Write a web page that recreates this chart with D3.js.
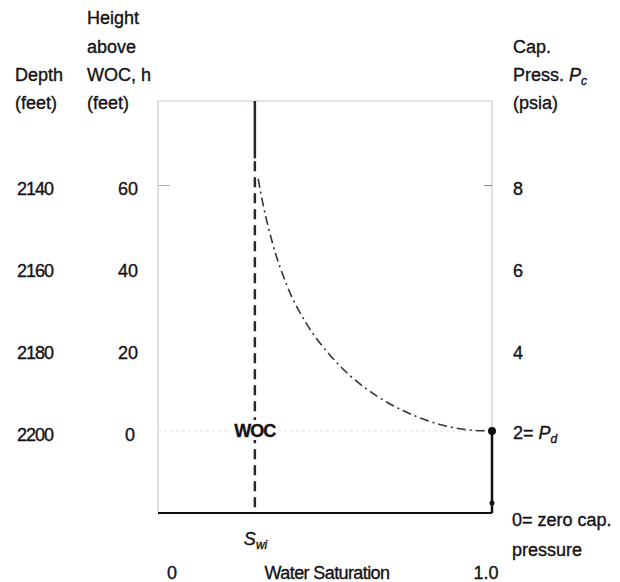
<!DOCTYPE html>
<html>
<head>
<meta charset="utf-8">
<script src="https://cdn.jsdelivr.net/npm/d3@7/dist/d3.min.js"></script>
<style>
  body { margin: 0; background: #fff; }
  svg text { font-family: "Liberation Sans", Arial, sans-serif; font-size: 18px; fill: #151215;
             stroke: #151215; stroke-width: 0.35px; }
</style>
</head>
<body>
<svg class="chart"></svg>
<script>
// values
var heightTicks = [60, 40, 20, 0];
var depthLabels = ['2140', '2160', '2180', '2200'];
var pcTicks = [8, 6, 4];
var pd = 2;
var swi = 0.29;
var curveSw = [0.30, 0.314, 0.344, 0.386, 0.446, 0.515, 0.575, 0.656, 0.754, 0.853, 0.925, 1.0];
var curvePc = [8.15, 7.55, 6.55, 5.55, 4.6, 3.85, 3.35, 2.85, 2.42, 2.14, 2.03, 2.0];
var solidTopH = 66.5;

function show() {
    'use strict';

    var width = 620, height = 582;
    var left = 158, right = 492, top = 101, bottom = 513;

    var svg = d3.select('.chart')
        .attr('width', width)
        .attr('height', height);

    var x = d3.scaleLinear().domain([0, 1]).range([left, right]);
    var h = d3.scaleLinear().domain([-20, 60]).range([bottom, 185]);
    var pc = d3.scaleLinear().domain([0, 8]).range([bottom, 185]);

    // frame
    svg.append('path')
        .attr('d', 'M' + left + ',' + bottom + 'V' + top + 'H' + right + 'V' + bottom)
        .attr('fill', 'none')
        .attr('stroke', '#cfc6cf')
        .attr('stroke-width', 1.2);

    // faint line at WOC level
    svg.append('line')
        .attr('x1', left).attr('x2', right)
        .attr('y1', h(0)).attr('y2', h(0))
        .attr('stroke', '#e2dde2')
        .attr('stroke-dasharray', '3,3');

    // small ticks on frame
    var tickL = d3.axisRight(h).tickValues([60]).tickSize(12).tickFormat('');
    svg.append('g').attr('transform', 'translate(' + left + ',0)').call(tickL)
        .call(function (g) { g.select('.domain').remove(); })
        .selectAll('line').attr('stroke', '#b9aeb9');
    var tickR = d3.axisLeft(pc).tickValues([8]).tickSize(8).tickFormat('');
    svg.append('g').attr('transform', 'translate(' + right + ',0)').call(tickR)
        .call(function (g) { g.select('.domain').remove(); })
        .selectAll('line').attr('stroke', '#8f858f');

    // depth labels
    var depthAxis = d3.axisLeft(h).tickValues(heightTicks).tickSize(0)
        .tickFormat(function (d, i) { return depthLabels[i]; });
    svg.append('g').attr('transform', 'translate(56,4)').call(depthAxis)
        .call(function (g) { g.select('.domain').remove(); })
        .selectAll('text').attr('font-size', null).attr('font-family', null).attr('fill', null)
        .attr('letter-spacing', '-1px');

    // height labels
    var hAxis = d3.axisLeft(h).tickValues(heightTicks).tickSize(0).tickFormat(d3.format('d'));
    svg.append('g').attr('transform', 'translate(138,4)').call(hAxis)
        .call(function (g) { g.select('.domain').remove(); })
        .selectAll('text').attr('font-size', null).attr('font-family', null).attr('fill', null)
        .attr('x', function (d) { return d === 0 ? -3 : 0; });

    // capillary pressure labels
    var pcAxis = d3.axisRight(pc).tickValues(pcTicks).tickSize(0).tickFormat(d3.format('d'));
    svg.append('g').attr('transform', 'translate(513,4)').call(pcAxis)
        .call(function (g) { g.select('.domain').remove(); })
        .selectAll('text').attr('font-size', null).attr('font-family', null).attr('fill', null).attr('x', 0);

    var pdText = svg.append('text').attr('x', 513).attr('y', pc(pd) + 8);
    pdText.append('tspan').text(pd + '= ');
    pdText.append('tspan').attr('font-style', 'italic').text('P');
    pdText.append('tspan').attr('font-style', 'italic').attr('font-size', '12px').attr('dy', 4).text('d');

    svg.append('text').attr('x', 512).attr('y', pc(0) + 13).text('0= zero cap.');
    svg.append('text').attr('x', 512).attr('y', pc(0) + 43).text('pressure');

    // headers
    var leftHead = [['Height', 87, 24], ['above', 87, 53], ['WOC, h', 87, 81], ['(feet)', 87, 109],
                    ['Depth', 15, 81], ['(feet)', 15, 109]];
    svg.selectAll('.head').data(leftHead).enter().append('text')
        .attr('x', function (d) { return d[1]; })
        .attr('y', function (d) { return d[2]; })
        .text(function (d) { return d[0]; });

    svg.append('text').attr('x', 513).attr('y', 53).text('Cap.');
    var press = svg.append('text').attr('x', 513).attr('y', 81);
    press.append('tspan').text('Press. ');
    press.append('tspan').attr('font-style', 'italic').text('P');
    press.append('tspan').attr('font-style', 'italic').attr('font-size', '12px').attr('dy', 4).text('c');
    svg.append('text').attr('x', 513).attr('y', 109).text('(psia)');

    // bottom axis
    svg.append('line')
        .attr('x1', x(0)).attr('x2', x(1))
        .attr('y1', bottom).attr('y2', bottom)
        .attr('stroke', '#111').attr('stroke-width', 2);

    svg.append('text').attr('x', x(0) + 14).attr('y', 579).attr('text-anchor', 'middle').text('0');
    svg.append('text').attr('x', x(1) - 6).attr('y', 579).attr('text-anchor', 'middle').text('1.0');
    svg.append('text').attr('x', (x(0) + x(1)) / 2 + 2).attr('y', 579).attr('text-anchor', 'middle')
        .attr('letter-spacing', '-0.6px').text('Water Saturation');

    var swiText = svg.append('text').attr('x', x(swi) - 11).attr('y', 545);
    swiText.append('tspan').attr('font-style', 'italic').text('S');
    swiText.append('tspan').attr('font-style', 'italic').attr('font-size', '12px').attr('dy', 4).text('wi');

    // irreducible water saturation line
    svg.append('line')
        .attr('x1', x(swi)).attr('x2', x(swi))
        .attr('y1', top).attr('y2', h(solidTopH))
        .attr('stroke', '#2b2329').attr('stroke-width', 2.5);
    svg.append('line')
        .attr('x1', x(swi)).attr('x2', x(swi))
        .attr('y1', h(solidTopH) + 3).attr('y2', bottom)
        .attr('stroke', '#2b2329').attr('stroke-width', 2.5)
        .attr('stroke-dasharray', '10,6');

    // WOC label with white backing
    svg.append('rect')
        .attr('x', x(swi) - 24).attr('y', h(0) - 11)
        .attr('width', 48).attr('height', 20)
        .attr('fill', '#fff');
    svg.append('text').attr('x', x(swi)).attr('y', h(0) + 6)
        .attr('text-anchor', 'middle').attr('font-weight', 'bold').attr('letter-spacing', '-1px')
        .text('WOC');

    // capillary pressure curve
    var pts = curveSw.map(function (s, i) { return [s, curvePc[i]]; });
    var line = d3.line()
        .x(function (d) { return x(d[0]); })
        .y(function (d) { return pc(d[1]); })
        .curve(d3.curveMonotoneX);
    svg.append('path')
        .datum(pts)
        .attr('d', line)
        .attr('fill', 'none')
        .attr('stroke', '#3a3036')
        .attr('stroke-width', 1.6)
        .attr('stroke-dasharray', '9,4,2,4');

    // threshold pressure at Sw = 1
    svg.append('line')
        .attr('x1', x(1)).attr('x2', x(1))
        .attr('y1', pc(pd)).attr('y2', bottom)
        .attr('stroke', '#111').attr('stroke-width', 2.5);
    svg.append('circle')
        .attr('cx', x(1)).attr('cy', pc(pd)).attr('r', 4)
        .attr('fill', '#111');
    svg.append('circle')
        .attr('cx', x(1)).attr('cy', bottom - 10).attr('r', 2.5)
        .attr('fill', '#111');
}

show();
</script>
</body>
</html>
